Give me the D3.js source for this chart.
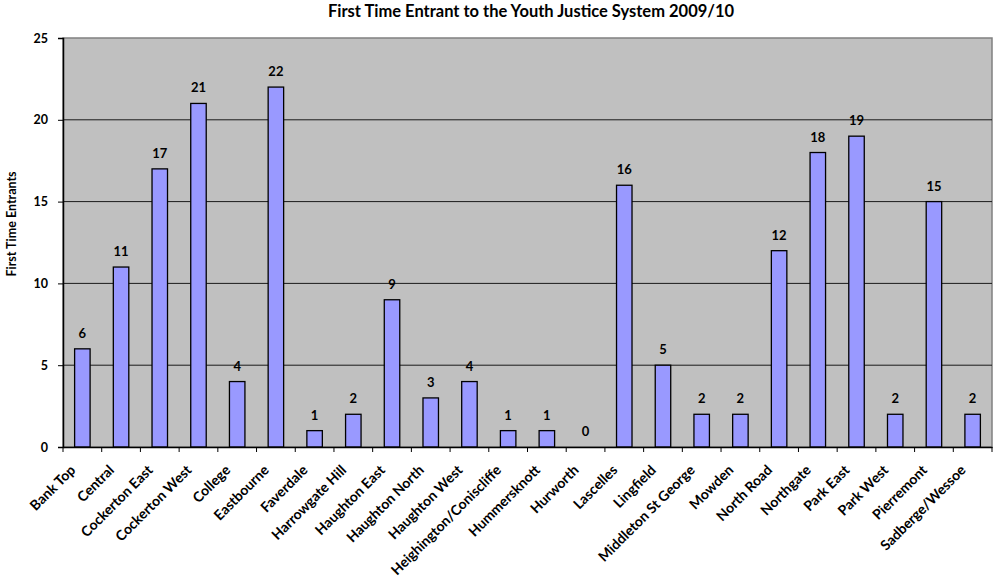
<!DOCTYPE html>
<html><head><meta charset="utf-8">
<script src="https://cdn.jsdelivr.net/npm/d3@7"></script>
<style>body{margin:0;background:#fff}svg{display:block}text{font-family:Lato,"Open Sans",sans-serif;font-weight:bold}</style>
</head><body><svg id="c" width="994" height="579"></svg>
<script>
const categories = ["Bank Top","Central","Cockerton East","Cockerton West","College","Eastbourne","Faverdale","Harrowgate Hill","Haughton East","Haughton North","Haughton West","Heighington/Coniscliffe","Hummersknott","Hurworth","Lascelles","Lingfield","Middleton St George","Mowden","North Road","Northgate","Park East","Park West","Pierremont","Sadberge/Wessoe"];
const values = [6,11,17,21,4,22,1,2,9,3,4,1,1,0,16,5,2,2,12,18,19,2,15,2];
const yTicks = [0,5,10,15,20,25];
const title = "First Time Entrant to the Youth Justice System 2009/10";
const yTitle = "First Time Entrants";

const svg = d3.select("#c");
const L=63, R=992, T=38, B=447;
const xb = d3.scaleBand().domain(categories).range([L,R]);
const bw = xb.bandwidth()*0.4;
const y = d3.scaleLinear().domain([0,25]).range([B,T]);

svg.append("rect").attr("x",L).attr("y",T).attr("width",R-L).attr("height",B-T).attr("fill","#c0c0c0").attr("stroke","#808080").attr("stroke-width",1.5);
svg.append("g").selectAll("line").data(yTicks.filter(d=>d>0&&d<25)).join("line")
  .attr("x1",L).attr("x2",R).attr("y1",d=>y(d)).attr("y2",d=>y(d)).attr("stroke","#1a1a1a").attr("stroke-width",1);

svg.append("g").selectAll("rect").data(values).join("rect")
  .attr("x",(d,i)=>xb(categories[i])+xb.bandwidth()/2-bw/2).attr("width",bw)
  .attr("y",d=>y(d)).attr("height",d=>B-y(d))
  .attr("fill","#9999ff").attr("stroke","#000").attr("stroke-width",1.3);

svg.append("g").selectAll("text").data(values).join("text")
  .attr("x",(d,i)=>xb(categories[i])+xb.bandwidth()/2).attr("y",d=>y(d)-11)
  .attr("text-anchor","middle").attr("font-size",13).text(d=>d);

// y axis
const ya = svg.append("g").attr("transform",`translate(${L},0)`).call(d3.axisLeft(y).tickValues(yTicks).tickSize(5).tickPadding(10));
ya.select(".domain").attr("stroke","#000").attr("stroke-width",1.5);
ya.selectAll("line").attr("stroke","#000");
ya.selectAll("text").attr("font-size",12.5).attr("fill","#000").style("font-family","Lato").style("font-weight","bold");
// x axis
const xa = svg.append("g").attr("transform",`translate(0,${B})`).call(d3.axisBottom(xb).tickSize(0).tickFormat(""));
xa.select(".domain").attr("stroke","#000").attr("stroke-width",1.5);
svg.append("g").selectAll("line").data(d3.range(categories.length+1)).join("line")
  .attr("x1",i=>L+i*xb.step()).attr("x2",i=>L+i*xb.step()).attr("y1",B).attr("y2",B+5).attr("stroke","#000");
svg.append("g").selectAll("text").data(categories).join("text")
  .attr("transform",d=>`translate(${xb(d)+xb.bandwidth()/2-6},${B+24}) rotate(-45)`)
  .attr("text-anchor","end").attr("font-size",14).text(d=>d);

svg.append("text").attr("x",531).attr("y",17).attr("text-anchor","middle").attr("font-size",16.5).text(title);
svg.append("text").attr("transform","translate(16,224) rotate(-90)").attr("text-anchor","middle").attr("font-size",12.5).text(yTitle);
</script></body></html>
